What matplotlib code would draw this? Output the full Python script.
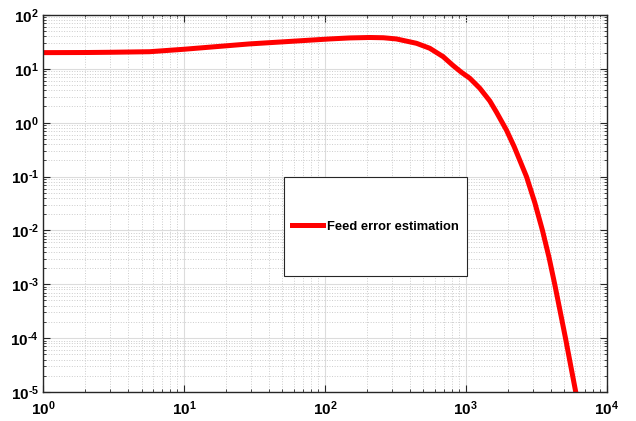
import matplotlib
matplotlib.use('Agg')
import matplotlib.pyplot as plt
from matplotlib.patches import Rectangle
from matplotlib.ticker import LogLocator, NullFormatter, FuncFormatter
import numpy as np

# values (log-log)
freq = [1, 2, 3, 5.7, 10, 29, 108, 150, 208, 260, 322, 447, 555, 691, 813,
        932, 1067, 1256, 1479, 1650, 1942, 2203, 2694, 3085, 3499, 3900,
        4275, 4665, 5097, 5555, 6026, 6300]
err = [20, 20.1, 20.3, 20.8, 23.1, 29, 35.9, 37.5, 38.2, 37.8, 35.9, 29.8,
       24.1, 16.8, 11.5, 8.6, 6.7, 4.37, 2.54, 1.57, 0.73, 0.36, 0.1, 0.033,
       0.01, 3.1e-3, 1e-3, 3.2e-4, 1e-4, 3.05e-5, 1e-5, 6e-6]
legend_label = 'Feed error estimation'

plt.rcParams['font.family'] = ['Liberation Sans', 'DejaVu Sans']
plt.rcParams['mathtext.fontset'] = 'custom'
plt.rcParams['mathtext.rm'] = 'Liberation Sans:bold'
plt.rcParams['mathtext.it'] = 'Liberation Sans:bold'
plt.rcParams['mathtext.bf'] = 'Liberation Sans:bold'
plt.rcParams['mathtext.default'] = 'rm'


def pow_label(v, pos):
    e = int(round(np.log10(v)))
    if e < 0:
        return r'$10^{\text{-}%d}$' % (-e)
    return r'$10^{%d}$' % e


fig = plt.figure(figsize=(6.36, 4.21), dpi=100)
ax = fig.add_axes([0.0676, 0.0689, 0.8864, 0.8955])

line, = ax.loglog(freq, err, color='#ff0000', lw=3.6, label=legend_label,
                  solid_joinstyle='round')

ax.set_xlim(1, 1e4)
ax.set_ylim(1e-5, 1e2)
ax.xaxis.set_major_locator(LogLocator(base=10, numticks=10))
ax.yaxis.set_major_locator(LogLocator(base=10, numticks=10))
ax.xaxis.set_minor_locator(LogLocator(base=10, subs=range(2, 10), numticks=20))
ax.yaxis.set_minor_locator(LogLocator(base=10, subs=range(2, 10), numticks=20))
ax.xaxis.set_major_formatter(FuncFormatter(pow_label))
ax.yaxis.set_major_formatter(FuncFormatter(pow_label))
ax.xaxis.set_minor_formatter(NullFormatter())
ax.yaxis.set_minor_formatter(NullFormatter())

ax.grid(True, which='major', color='#dcdcdc', linestyle='-', linewidth=0.8)
ax.grid(True, which='minor', color='#cccccc', linestyle=':', linewidth=0.7)
ax.set_axisbelow(True)

ax.tick_params(which='both', direction='in', top=True, right=True,
               color='#262626', labelsize=11)
ax.tick_params(axis='x', pad=5)
ax.tick_params(axis='y', pad=3)
ax.tick_params(which='major', length=5, width=0.8)
ax.tick_params(which='minor', length=2.5, width=0.6)
for sp in ax.spines.values():
    sp.set_color('#262626')
    sp.set_linewidth(1.0)

# legend box
box = (0.427, 0.308, 0.325, 0.262)
ax.add_patch(Rectangle(box[:2], box[2], box[3], transform=ax.transAxes,
                       facecolor='white', edgecolor='#262626', lw=0.8, zorder=5))
leg = ax.legend(handles=[line], loc='center',
                bbox_to_anchor=(box[0], box[1], box[2], box[3]),
                frameon=False, handlelength=2.35, handletextpad=0.3,
                prop={'weight': 'bold', 'size': 9.3})
leg.set_zorder(6)

fig.savefig('out.png', dpi=100)
